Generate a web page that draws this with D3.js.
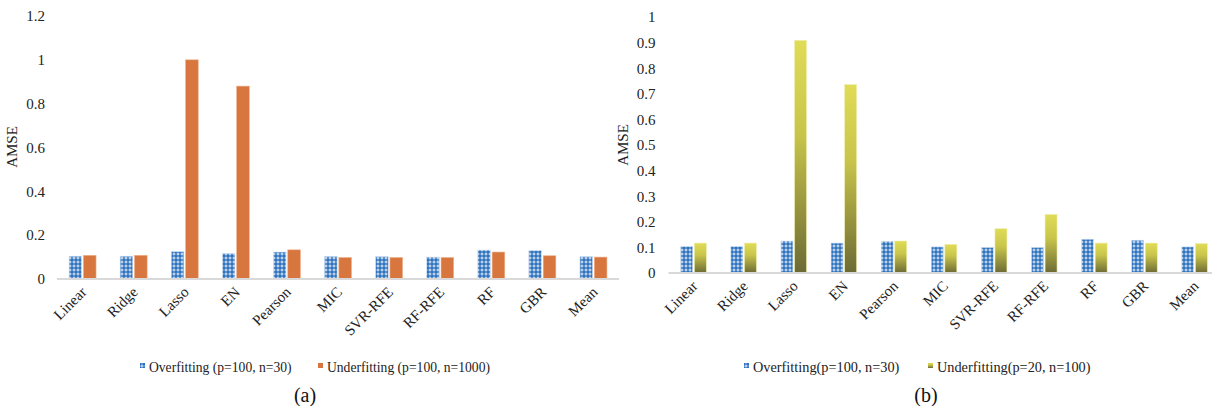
<!DOCTYPE html>
<html><head><meta charset="utf-8">
<script src="https://cdn.jsdelivr.net/npm/d3@7"></script>
<style>
html,body{margin:0;padding:0;background:#fff;}
svg text{font-family:"Liberation Serif","Times New Roman",Times,"DejaVu Serif",serif !important;}
</style></head>
<body><svg id="c" width="1212" height="406"></svg>
<script>
const categories = ["Linear","Ridge","Lasso","EN","Pearson","MIC","SVR-RFE","RF-RFE","RF","GBR","Mean"];
const overfitA  = [0.104,0.104,0.125,0.117,0.123,0.103,0.102,0.100,0.132,0.130,0.102];
const underfitA = [0.108,0.108,1.000,0.880,0.133,0.098,0.098,0.098,0.123,0.106,0.100];
const overfitB  = [0.104,0.104,0.125,0.117,0.124,0.102,0.100,0.100,0.132,0.128,0.102];
const underfitB = [0.117,0.117,0.909,0.736,0.125,0.112,0.173,0.229,0.117,0.117,0.115];
const seriesA = ["Overfitting (p=100, n=30)","Underfitting (p=100, n=1000)"];
const seriesB = ["Overfitting(p=100, n=30)","Underfitting(p=20, n=100)"];
const ticksA = [0,0.2,0.4,0.6,0.8,1,1.2];
const ticksB = [0,0.1,0.2,0.3,0.4,0.5,0.6,0.7,0.8,0.9,1];
const yTitle = "AMSE";
const captions = ["(a)","(b)"];

const FONT = '"Liberation Serif","Times New Roman",Times,"DejaVu Serif",serif';
const svg = d3.select("#c");
const defs = svg.append("defs");
const pat = defs.append("pattern").attr("id","bluePat").attr("patternUnits","userSpaceOnUse")
  .attr("width",4).attr("height",4);
pat.append("rect").attr("width",4).attr("height",4).attr("fill","#2f72bd");
pat.append("rect").attr("x",1.5).attr("y",0.5).attr("width",1).attr("height",3).attr("fill","#e8f0fa");
pat.append("rect").attr("x",0.5).attr("y",1.5).attr("width",3).attr("height",1).attr("fill","#e8f0fa");
const grad = defs.append("linearGradient").attr("id","yelGrad").attr("x1",0).attr("y1",0).attr("x2",0).attr("y2",1);
grad.append("stop").attr("offset","0%").attr("stop-color","#e0dc57");
grad.append("stop").attr("offset","40%").attr("stop-color","#c9c54b");
grad.append("stop").attr("offset","100%").attr("stop-color","#6c6a35");

const tc = "#222";

function drawChart(o){
  const g = svg.append("g").attr("font-family",FONT);
  const y = d3.scaleLinear().domain([0,o.ymax]).range([o.y0,o.yTop]);
  const x = d3.scaleBand().domain(categories).range([o.xl,o.xr]).padding(0);
  const x1 = d3.scaleBand().domain([0,1]).range([-o.half,o.half]).paddingInner(o.gap);
  const fills = ["url(#bluePat)", o.fill2];
  const vals = [o.v1,o.v2];
  const yAxis = d3.axisLeft(y).tickValues(o.ticks).tickSize(0).tickPadding(o.tickPad)
    .tickFormat(d=>String(d));
  const ya = g.append("g").attr("transform",`translate(${o.xl},0)`).call(yAxis);
  ya.attr("font-family",FONT).attr("font-size",15);
  ya.select(".domain").remove();
  ya.selectAll("text").attr("fill",tc);
  vals.forEach((arr,si)=>{
    g.selectAll(null).data(categories).enter().append("rect")
      .attr("x",c=>x(c)+x.bandwidth()/2+x1(si))
      .attr("width",x1.bandwidth())
      .attr("y",(c,i)=>y(arr[i]))
      .attr("height",(c,i)=>y(0)-y(arr[i]))
      .attr("fill",fills[si])
      .attr("stroke", si===0 ? "#cfe0f3" : o.stroke2).attr("stroke-width",0.6);
  });
  const xAxis = d3.axisBottom(x).tickSize(0).tickPadding(0);
  const xa = g.append("g").attr("transform",`translate(0,${o.y0})`).call(xAxis);
  xa.attr("font-family",FONT).attr("font-size",15);
  xa.select(".domain").attr("stroke","#d9d9d9").attr("stroke-width",2).attr("d",`M${o.xl},0H${o.xr}`);
  xa.selectAll(".tick text")
    .attr("text-anchor","end").attr("fill",tc)
    .attr("dy",0).attr("y",0)
    .attr("transform",`translate(5,14) rotate(-45)`);
  g.append("text").attr("transform",`translate(${o.titleX},${o.titleY}) rotate(-90)`)
    .attr("text-anchor","middle").attr("fill",tc).attr("font-size",15).text(yTitle);
  const lg = g.append("g");
  [0,1].forEach(si=>{
    lg.append("rect").attr("x",o.legX[si]).attr("y",363).attr("width",5).attr("height",5).attr("fill",fills[si]);
    lg.append("text").attr("x",o.legX[si]+9).attr("y",371.5).attr("fill",tc).attr("font-size",o.legSize).text(o.series[si]);
  });
  g.append("text").attr("x",o.capX).attr("y",402).attr("text-anchor","middle").attr("fill","#111")
    .attr("font-size",20).text(o.caption);
}

drawChart({ymax:1.2,y0:279,yTop:16,xl:57,xr:619,half:13.5,gap:0.12,tickPad:12,
  v1:overfitA,v2:underfitA,fill2:"#d8763f",stroke2:"#f0b08a",ticks:ticksA,legSize:13.6,
  titleX:17,titleY:147,legX:[140,318],series:seriesA,capX:305,caption:captions[0]});
drawChart({ymax:1,y0:273,yTop:17,xl:668.5,xr:1219.6,half:12.8,gap:0.12,tickPad:13,
  v1:overfitB,v2:underfitB,fill2:"url(#yelGrad)",stroke2:"#eeeeb0",ticks:ticksB,legSize:14.3,
  titleX:628,titleY:145,legX:[744,928],series:seriesB,capX:926,caption:captions[1]});
</script></body></html>
